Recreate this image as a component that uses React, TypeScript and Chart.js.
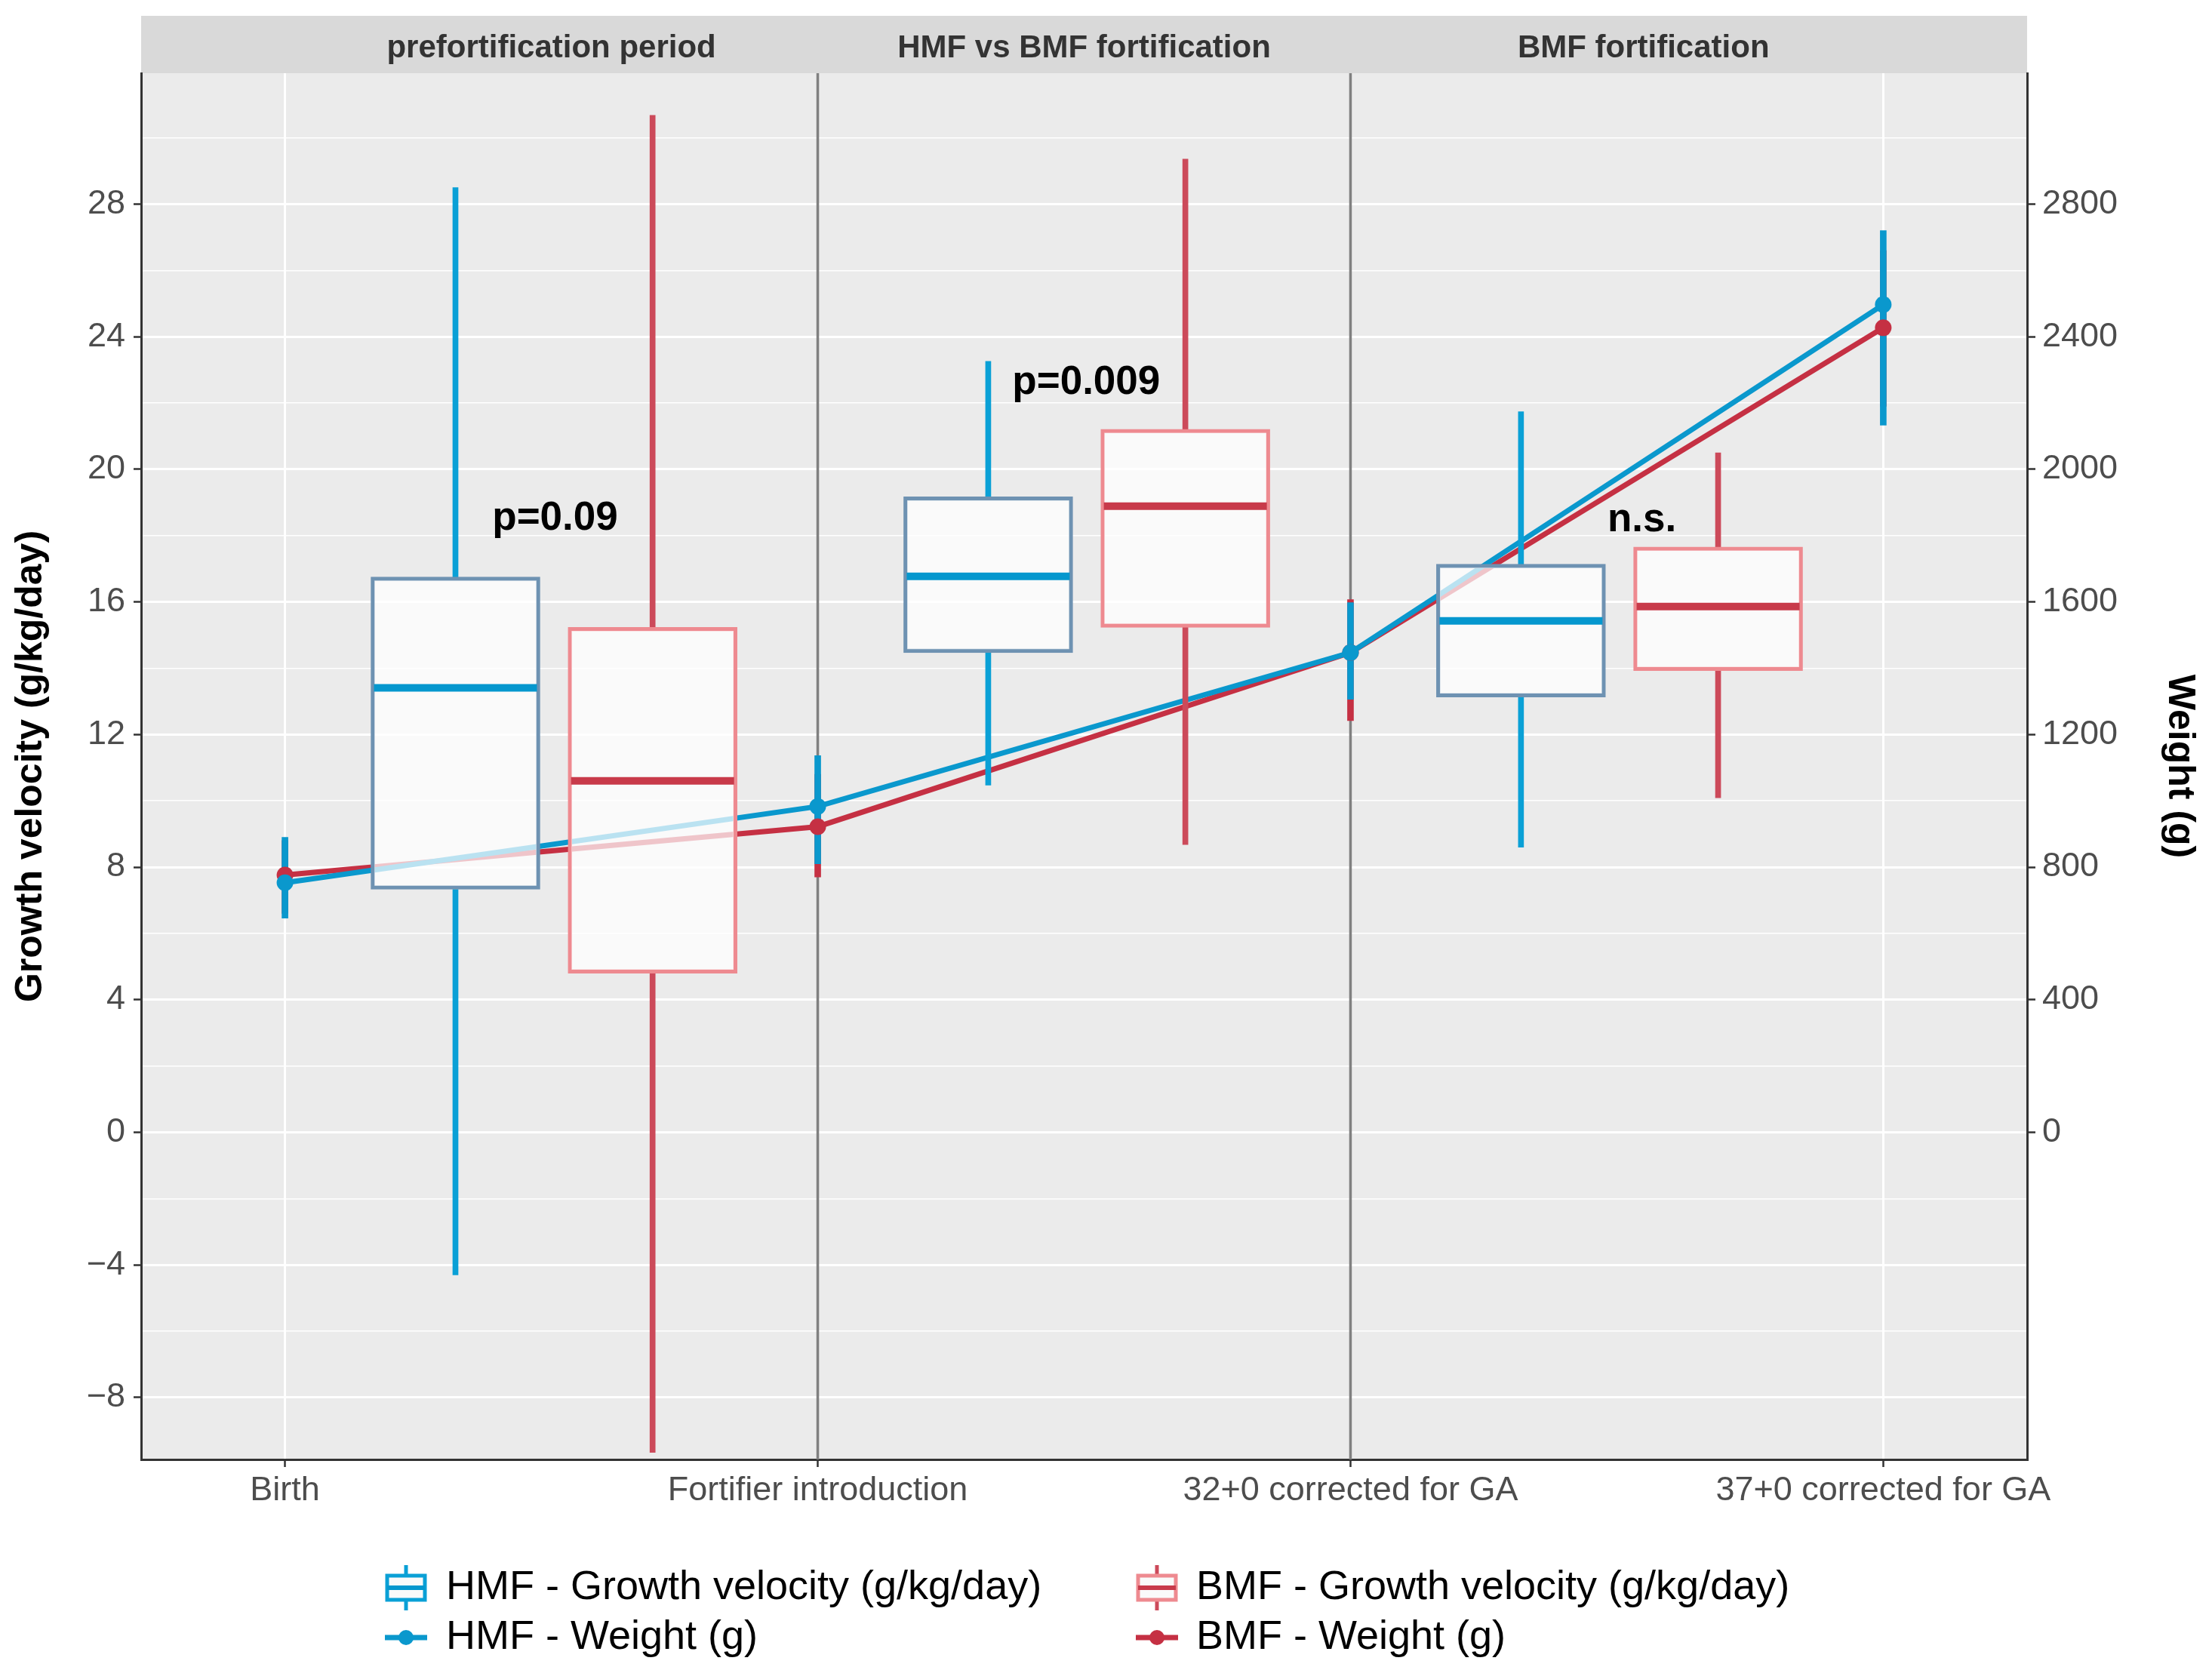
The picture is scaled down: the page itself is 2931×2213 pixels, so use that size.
import React, { useEffect, useRef } from 'react';
import { Chart, registerables } from 'chart.js';

Chart.register(...registerables);

// ---------------- data ----------------
const CATEGORIES = ['Birth', 'Fortifier introduction', '32+0 corrected for GA', '37+0 corrected for GA'];
const CATEGORY_X = [1, 2, 3, 4];
const PERIOD_START = [1, 2, 3];
const PERIOD_LABELS = ['prefortification period', 'HMF vs BMF fortification', 'BMF fortification'];
const PERIOD_LABEL_X = [1.5, 2.5, 3.55];
const PERIOD_BOUNDARIES = [2, 3];

// growth velocity boxplots (g/kg/day), one value per period
const HMF_GV_MIN = [-4.3, 10.47, 8.6];
const HMF_GV_Q1 = [7.33, 14.47, 13.13];
const HMF_GV_MEDIAN = [13.41, 16.77, 15.43];
const HMF_GV_Q3 = [16.75, 19.17, 17.14];
const HMF_GV_MAX = [28.5, 23.26, 21.74];

const BMF_GV_MIN = [-9.66, 8.68, 10.09];
const BMF_GV_Q1 = [4.8, 15.23, 13.93];
const BMF_GV_MEDIAN = [10.6, 18.89, 15.86];
const BMF_GV_Q3 = [15.23, 21.21, 17.66];
const BMF_GV_MAX = [30.68, 29.36, 20.5];

// weight (g), one value per time point
const HMF_WEIGHT = [753, 983, 1447, 2497];
const HMF_WEIGHT_LO = [646, 810, 1306, 2133];
const HMF_WEIGHT_HI = [890, 1136, 1598, 2720];
const BMF_WEIGHT = [776, 922, 1447, 2427];
const BMF_WEIGHT_LO = [660, 770, 1242, 2190];
const BMF_WEIGHT_HI = [880, 1080, 1607, 2660];

// p-value annotations
const P_LABELS = ['p=0.09', 'p=0.009', 'n.s.'];
const P_LABEL_X = [1.507, 2.504, 3.547];
const P_LABEL_Y = [18.17, 22.28, 18.14];

// axes
const GV_TICKS = [-8, -4, 0, 4, 8, 12, 16, 20, 24, 28];
const GV_MINOR = [-6, -2, 2, 6, 10, 14, 18, 22, 26, 30];
const GV_MIN = -9.87;
const GV_MAX = 31.95;
const WEIGHT_TICKS = [0, 400, 800, 1200, 1600, 2000, 2400, 2800];
const WEIGHT_PER_GV = 100;
const X_MIN = 0.73;
const X_MAX = 4.27;

const LEGEND_LABELS = [
  'HMF - Growth velocity (g/kg/day)',
  'BMF - Growth velocity (g/kg/day)',
  'HMF - Weight (g)',
  'BMF - Weight (g)',
];

// ---------------- styles ----------------
const FONT = '"Liberation Sans", Arial, Helvetica, sans-serif';
const W = 2931;
const H = 2213;
const PANEL_BG = '#EBEBEB';
const STRIP_BG = '#D9D9D9';
const STRIP_H = 76;
const TICK_TEXT = '#4D4D4D';
const AXIS_LINE = '#333333';

const HMF_OFFSET = 0.32;
const BMF_OFFSET = 0.69;
const BOX_PX = 224;

const HMF_WHISKER = '#0AA0D6';
const HMF_BORDER = '#6E92B2';
const HMF_MEDIAN = '#0597CE';
const HMF_LINE = '#0A98CD';
const BMF_WHISKER = '#CC4A5A';
const BMF_BORDER = '#EE8A90';
const BMF_MEDIAN = '#C83A4A';
const BMF_LINE = '#C53043';
const BOX_FILL = 'rgba(255,255,255,0.72)';

const LEGEND_ICON_X = [538, 1533];
const LEGEND_TEXT_X = [591, 1585];
const LEGEND_ROW_Y = [2104, 2170];

function boxData(starts: number[], off: number, lo: number[], hi: number[]) {
  return starts.map((p, i) => ({ x: p + off, y: [lo[i], hi[i]] }));
}

function zeroPad(s: any) {
  s.paddingTop = 0;
  s.paddingBottom = 0;
  s.paddingLeft = 0;
  s.paddingRight = 0;
}

export default function App() {
  const ref = useRef<HTMLCanvasElement | null>(null);

  useEffect(() => {
    const canvas = ref.current;
    if (!canvas) return;

    const backdrop = {
      id: 'backdrop',
      beforeDraw(chart: any) {
        const { ctx, chartArea: a } = chart;
        const x = chart.scales.x;
        ctx.save();
        ctx.fillStyle = '#FFFFFF';
        ctx.fillRect(0, 0, chart.width, chart.height);
        ctx.fillStyle = PANEL_BG;
        ctx.fillRect(a.left, a.top, a.right - a.left, a.bottom - a.top);
        ctx.fillStyle = STRIP_BG;
        ctx.fillRect(a.left, a.top - STRIP_H, a.right - a.left, STRIP_H);
        ctx.fillStyle = '#333333';
        ctx.font = `bold 42px ${FONT}`;
        ctx.textAlign = 'center';
        ctx.textBaseline = 'middle';
        PERIOD_LABELS.forEach((t, i) => {
          ctx.fillText(t, x.getPixelForValue(PERIOD_LABEL_X[i]), a.top - STRIP_H / 2 + 5);
        });
        ctx.restore();
      },
      beforeDatasetsDraw(chart: any) {
        const { ctx, chartArea: a } = chart;
        const x = chart.scales.x;
        ctx.save();
        ctx.strokeStyle = '#808080';
        ctx.lineWidth = 3.5;
        PERIOD_BOUNDARIES.forEach((b) => {
          const px = x.getPixelForValue(b);
          ctx.beginPath();
          ctx.moveTo(px, a.top);
          ctx.lineTo(px, a.bottom);
          ctx.stroke();
        });
        ctx.restore();
      },
      afterDatasetsDraw(chart: any) {
        const { ctx } = chart;
        const x = chart.scales.x;
        const y = chart.scales.y;
        ctx.save();
        ctx.fillStyle = '#000000';
        ctx.font = `bold 53px ${FONT}`;
        ctx.textAlign = 'center';
        ctx.textBaseline = 'alphabetic';
        P_LABELS.forEach((t, i) => {
          ctx.fillText(t, x.getPixelForValue(P_LABEL_X[i]), y.getPixelForValue(P_LABEL_Y[i]));
        });
        ctx.restore();
      },
      afterDraw(chart: any) {
        const { ctx } = chart;
        ctx.save();
        LEGEND_LABELS.forEach((label, i) => {
          const col = i % 2;
          const row = Math.floor(i / 2);
          const cx = LEGEND_ICON_X[col];
          const cy = LEGEND_ROW_Y[row];
          const isHMF = col === 0;
          if (row === 0) {
            ctx.strokeStyle = isHMF ? HMF_WHISKER : BMF_WHISKER;
            ctx.lineWidth = 5;
            ctx.beginPath();
            ctx.moveTo(cx, cy - 30);
            ctx.lineTo(cx, cy + 30);
            ctx.stroke();
            ctx.fillStyle = '#FAFAFA';
            ctx.fillRect(cx - 25, cy - 16, 50, 32);
            ctx.strokeStyle = isHMF ? HMF_WHISKER : BMF_BORDER;
            ctx.lineWidth = 5;
            ctx.strokeRect(cx - 25, cy - 16, 50, 32);
            ctx.strokeStyle = isHMF ? HMF_MEDIAN : BMF_MEDIAN;
            ctx.lineWidth = 6;
            ctx.beginPath();
            ctx.moveTo(cx - 25, cy);
            ctx.lineTo(cx + 25, cy);
            ctx.stroke();
          } else {
            const c = isHMF ? HMF_LINE : BMF_LINE;
            ctx.strokeStyle = c;
            ctx.lineWidth = 7;
            ctx.beginPath();
            ctx.moveTo(cx - 28, cy);
            ctx.lineTo(cx + 28, cy);
            ctx.stroke();
            ctx.fillStyle = c;
            ctx.beginPath();
            ctx.arc(cx, cy, 10, 0, Math.PI * 2);
            ctx.fill();
          }
          ctx.fillStyle = '#000000';
          ctx.font = `54px ${FONT}`;
          ctx.textAlign = 'left';
          ctx.textBaseline = 'middle';
          ctx.fillText(label, LEGEND_TEXT_X[col], cy);
        });
        ctx.restore();
      },
    };

    const isMajorGV = (v: number) => GV_TICKS.indexOf(v) !== -1;

    const chart = new Chart(canvas, {
      type: 'line',
      data: {
        datasets: [
          // medians (top)
          {
            type: 'line',
            label: 'HMF median',
            order: 1,
            showLine: false,
            data: PERIOD_START.map((p, i) => ({ x: p + HMF_OFFSET, y: HMF_GV_MEDIAN[i] })),
            pointStyle: 'line',
            pointRadius: BOX_PX / 2 - 4,
            pointBorderWidth: 10,
            pointBorderColor: HMF_MEDIAN,
            pointBackgroundColor: HMF_MEDIAN,
          },
          {
            type: 'line',
            label: 'BMF median',
            order: 1,
            showLine: false,
            data: PERIOD_START.map((p, i) => ({ x: p + BMF_OFFSET, y: BMF_GV_MEDIAN[i] })),
            pointStyle: 'line',
            pointRadius: BOX_PX / 2 - 4,
            pointBorderWidth: 10,
            pointBorderColor: BMF_MEDIAN,
            pointBackgroundColor: BMF_MEDIAN,
          },
          // boxes
          {
            type: 'bar',
            label: 'HMF box',
            order: 2,
            grouped: false,
            data: boxData(PERIOD_START, HMF_OFFSET, HMF_GV_Q1, HMF_GV_Q3),
            barThickness: BOX_PX,
            backgroundColor: BOX_FILL,
            borderColor: HMF_BORDER,
            borderWidth: 5,
            borderSkipped: false,
          } as any,
          {
            type: 'bar',
            label: 'BMF box',
            order: 2,
            grouped: false,
            data: boxData(PERIOD_START, BMF_OFFSET, BMF_GV_Q1, BMF_GV_Q3),
            barThickness: BOX_PX,
            backgroundColor: BOX_FILL,
            borderColor: BMF_BORDER,
            borderWidth: 5,
            borderSkipped: false,
          } as any,
          // whiskers
          {
            type: 'bar',
            label: 'HMF whiskers',
            order: 3,
            grouped: false,
            data: [
              ...boxData(PERIOD_START, HMF_OFFSET, HMF_GV_Q3, HMF_GV_MAX),
              ...boxData(PERIOD_START, HMF_OFFSET, HMF_GV_MIN, HMF_GV_Q1),
            ],
            barThickness: 7,
            backgroundColor: HMF_WHISKER,
            borderWidth: 0,
          } as any,
          {
            type: 'bar',
            label: 'BMF whiskers',
            order: 3,
            grouped: false,
            data: [
              ...boxData(PERIOD_START, BMF_OFFSET, BMF_GV_Q3, BMF_GV_MAX),
              ...boxData(PERIOD_START, BMF_OFFSET, BMF_GV_MIN, BMF_GV_Q1),
            ],
            barThickness: 7,
            backgroundColor: BMF_WHISKER,
            borderWidth: 0,
          } as any,
          // weight lines
          {
            type: 'line',
            label: 'HMF - Weight (g)',
            order: 4,
            yAxisID: 'y2',
            data: CATEGORY_X.map((c, i) => ({ x: c, y: HMF_WEIGHT[i] })),
            borderColor: HMF_LINE,
            borderWidth: 7,
            pointRadius: 11,
            pointBorderWidth: 0,
            pointBackgroundColor: HMF_LINE,
            tension: 0,
          },
          {
            type: 'line',
            label: 'BMF - Weight (g)',
            order: 5,
            yAxisID: 'y2',
            data: CATEGORY_X.map((c, i) => ({ x: c, y: BMF_WEIGHT[i] })),
            borderColor: BMF_LINE,
            borderWidth: 7,
            pointRadius: 11,
            pointBorderWidth: 0,
            pointBackgroundColor: BMF_LINE,
            tension: 0,
          },
          // weight error bars
          {
            type: 'bar',
            label: 'HMF weight range',
            order: 6,
            yAxisID: 'y2',
            grouped: false,
            data: CATEGORY_X.map((c, i) => ({ x: c, y: [HMF_WEIGHT_LO[i], HMF_WEIGHT_HI[i]] })),
            barThickness: 8,
            backgroundColor: HMF_LINE,
            borderWidth: 0,
          } as any,
          {
            type: 'bar',
            label: 'BMF weight range',
            order: 7,
            yAxisID: 'y2',
            grouped: false,
            data: CATEGORY_X.map((c, i) => ({ x: c, y: [BMF_WEIGHT_LO[i], BMF_WEIGHT_HI[i]] })),
            barThickness: 8,
            backgroundColor: BMF_LINE,
            borderWidth: 0,
          } as any,
        ],
      },
      options: {
        responsive: false,
        animation: false,
        devicePixelRatio: 1,
        events: [],
        layout: { autoPadding: false, padding: { top: 97, bottom: 182, left: 0, right: 0 } },
        plugins: {
          legend: { display: false },
          tooltip: { enabled: false },
          title: { display: false },
        },
        scales: {
          x: {
            type: 'linear',
            min: X_MIN,
            max: X_MAX,
            offset: false,
            afterBuildTicks: (s: any) => {
              s.ticks = CATEGORY_X.map((v) => ({ value: v }));
            },
            afterFit: (s: any) => {
              s.height = 97;
              zeroPad(s);
            },
            ticks: {
              autoSkip: false,
              maxRotation: 0,
              minRotation: 0,
              padding: 5,
              color: TICK_TEXT,
              font: { family: FONT, size: 45 },
              callback: (_v: any, i: number) => CATEGORIES[i],
            },
            grid: {
              color: '#FFFFFF',
              lineWidth: 3,
              tickLength: 10,
              tickColor: AXIS_LINE,
              tickWidth: 2.5,
              offset: false,
            },
            border: { display: true, color: AXIS_LINE, width: 3 },
          },
          y: {
            type: 'linear',
            position: 'left',
            min: GV_MIN,
            max: GV_MAX,
            afterBuildTicks: (s: any) => {
              s.ticks = [...GV_TICKS, ...GV_MINOR].sort((a, b) => a - b).map((v) => ({ value: v }));
            },
            afterFit: (s: any) => {
              s.width = 187;
              zeroPad(s);
            },
            ticks: {
              autoSkip: false,
              padding: 11,
              color: TICK_TEXT,
              font: { family: FONT, size: 45 },
              callback: (v: any) => (isMajorGV(v) ? (v < 0 ? '\u2212' + Math.abs(v) : String(v)) : ''),
            },
            grid: {
              color: '#FFFFFF',
              lineWidth: (c: any) => (c.tick && isMajorGV(c.tick.value) ? 3 : 1.5),
              tickLength: 10,
              tickColor: (c: any) => (c.tick && isMajorGV(c.tick.value) ? AXIS_LINE : 'rgba(0,0,0,0)'),
              tickWidth: 2.5,
            },
            border: { display: true, color: AXIS_LINE, width: 3 },
            title: {
              display: true,
              text: 'Growth velocity (g/kg/day)',
              color: '#000000',
              font: { family: FONT, size: 50, weight: 'bold' },
              padding: { top: 11, bottom: 0 },
            },
          },
          y2: {
            type: 'linear',
            position: 'right',
            min: GV_MIN * WEIGHT_PER_GV,
            max: GV_MAX * WEIGHT_PER_GV,
            afterBuildTicks: (s: any) => {
              s.ticks = WEIGHT_TICKS.map((v) => ({ value: v }));
            },
            afterFit: (s: any) => {
              s.width = 245;
              zeroPad(s);
            },
            ticks: {
              autoSkip: false,
              padding: 9,
              color: TICK_TEXT,
              font: { family: FONT, size: 45 },
              callback: (v: any) => String(v),
            },
            grid: {
              drawOnChartArea: false,
              tickLength: 11,
              tickColor: AXIS_LINE,
              tickWidth: 2.5,
            },
            border: { display: true, color: AXIS_LINE, width: 3 },
            title: {
              display: true,
              text: 'Weight (g)',
              color: '#000000',
              font: { family: FONT, size: 50, weight: 'bold' },
              padding: { top: 13, bottom: 0 },
            },
          },
        },
      } as any,
      plugins: [backdrop],
    });

    return () => chart.destroy();
  }, []);

  return (
    <div style={{ position: 'fixed', left: 0, top: 0, width: W, height: H, background: '#FFFFFF' }}>
      <canvas ref={ref} width={W} height={H} style={{ display: 'block', width: W, height: H }} />
    </div>
  );
}
